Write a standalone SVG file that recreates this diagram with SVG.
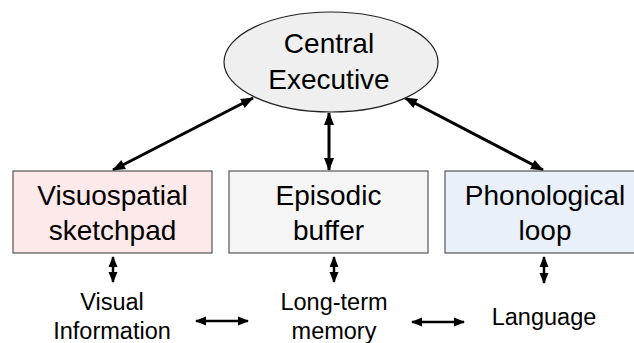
<svg xmlns="http://www.w3.org/2000/svg" width="634" height="343" viewBox="0 0 634 343">
  <defs>
    <marker id="ah" markerUnits="userSpaceOnUse" markerWidth="14" markerHeight="12" refX="12" refY="5" orient="auto-start-reverse" viewBox="0 0 14 10">
      <path d="M0,0 L13,5 L0,10 Z" fill="#000"/>
    </marker>
    <marker id="as" markerUnits="userSpaceOnUse" markerWidth="11" markerHeight="10" refX="10" refY="4.5" orient="auto-start-reverse" viewBox="0 0 11 9">
      <path d="M0,0 L11,4.5 L0,9 Z" fill="#000"/>
    </marker>
    <style>
      text { font-family: "Liberation Sans", Arial, sans-serif; fill: #000; text-anchor: middle; }
      .big { font-size: 28px; }
      .small { font-size: 23.5px; }
      .box { stroke: #555; stroke-width: 1.2; }
      .main { stroke: #000; stroke-width: 3; fill: none; marker-start: url(#ah); marker-end: url(#ah); }
      .minor { stroke: #000; stroke-width: 2.5; fill: none; marker-start: url(#as); marker-end: url(#as); }
    </style>
  </defs>

  <g id="connectors">
    <line class="main" x1="253" y1="98" x2="113" y2="170"/>
    <line class="main" x1="329" y1="113" x2="329" y2="170"/>
    <line class="main" x1="405" y1="98" x2="543" y2="170"/>
    <line class="minor" x1="113" y1="257" x2="113" y2="282"/>
    <line class="minor" x1="334" y1="257" x2="334" y2="282"/>
    <line class="minor" x1="544" y1="257" x2="544" y2="283"/>
    <line class="minor" x1="196" y1="321" x2="248" y2="321"/>
    <line class="minor" x1="412" y1="322" x2="464" y2="322"/>
  </g>

  <g id="central-executive">
    <ellipse cx="331" cy="62" rx="107" ry="50" fill="#efefef" stroke="#222" stroke-width="1.2"/>
    <text class="big" x="329" y="53">Central</text>
    <text class="big" x="329" y="89">Executive</text>
  </g>

  <g id="visuospatial-sketchpad">
    <rect class="box" x="13" y="171" width="199" height="82" fill="#fde9ea"/>
    <text class="big" x="112.5" y="205">Visuospatial</text>
    <text class="big" x="112.5" y="240">sketchpad</text>
  </g>

  <g id="episodic-buffer">
    <rect class="box" x="229" y="171" width="199" height="82" fill="#f5f5f5"/>
    <text class="big" x="328.5" y="205">Episodic</text>
    <text class="big" x="328.5" y="240">buffer</text>
  </g>

  <g id="phonological-loop">
    <rect class="box" x="445" y="171" width="200" height="82" fill="#e9f0fa"/>
    <text class="big" x="545" y="205">Phonological</text>
    <text class="big" x="545" y="240">loop</text>
  </g>

  <g id="visual-information">
    <text class="small" x="112" y="310">Visual</text>
    <text class="small" x="112" y="339">Information</text>
  </g>

  <g id="long-term-memory">
    <text class="small" x="334" y="310">Long-term</text>
    <text class="small" x="334" y="339">memory</text>
  </g>

  <g id="language">
    <text class="small" x="544" y="325">Language</text>
  </g>
</svg>
